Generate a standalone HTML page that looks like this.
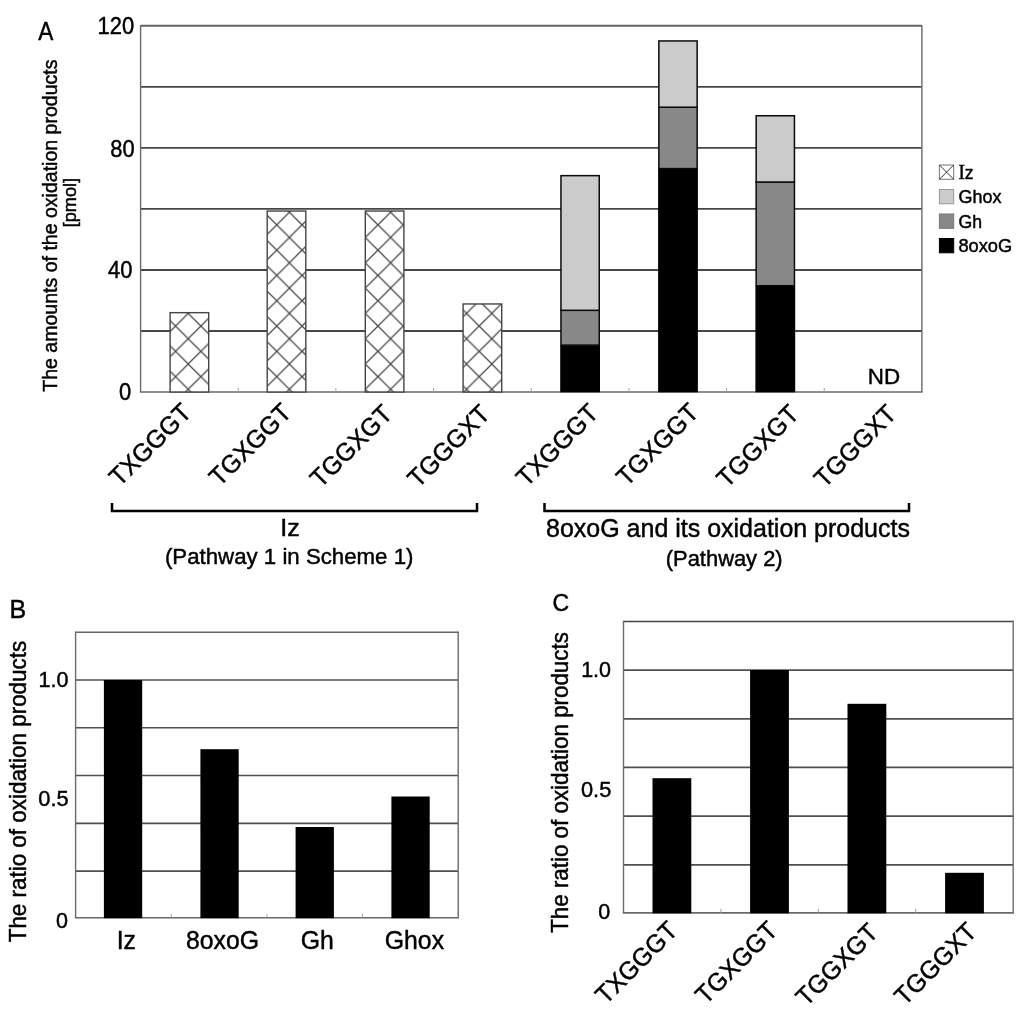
<!DOCTYPE html>
<html><head><meta charset="utf-8"><title>Figure</title>
<style>
html,body{margin:0;padding:0;background:#fff;}
body{width:1024px;height:1016px;overflow:hidden;}
svg{display:block;font-family:"Liberation Sans",sans-serif;fill:#000;filter:grayscale(1) blur(0.45px);}
</style></head><body>
<svg width="1024" height="1016" viewBox="0 0 1024 1016">
<rect x="0" y="0" width="1024" height="1016" fill="#fff"/>
<defs><pattern id="hx" patternUnits="userSpaceOnUse" x="11.1" y="9.8" width="25.3" height="25.3"><path d="M-1,-1 L26.3,26.3 M-1,26.3 L26.3,-1" stroke="#484848" stroke-width="1.25" fill="none"/></pattern></defs>
<line x1="140.6" y1="330.97" x2="921.9" y2="330.97" stroke="#484848" stroke-width="1.9" />
<line x1="140.6" y1="269.93" x2="921.9" y2="269.93" stroke="#484848" stroke-width="1.9" />
<line x1="140.6" y1="208.90" x2="921.9" y2="208.90" stroke="#484848" stroke-width="1.9" />
<line x1="140.6" y1="147.87" x2="921.9" y2="147.87" stroke="#484848" stroke-width="1.9" />
<line x1="140.6" y1="86.83" x2="921.9" y2="86.83" stroke="#484848" stroke-width="1.9" />
<line x1="140.6" y1="25.8" x2="921.9" y2="25.8" stroke="#666" stroke-width="1.9" />
<line x1="140.6" y1="24.900000000000002" x2="140.6" y2="392.0" stroke="#6a6a6a" stroke-width="1.4" />
<line x1="921.9" y1="24.900000000000002" x2="921.9" y2="392.0" stroke="#6a6a6a" stroke-width="1.4" />
<line x1="139.9" y1="392.0" x2="922.6" y2="392.0" stroke="#6a6a6a" stroke-width="1.6" />
<line x1="238.26" y1="392.0" x2="238.26" y2="388.0" stroke="#999" stroke-width="0.9" />
<line x1="335.92" y1="392.0" x2="335.92" y2="388.0" stroke="#999" stroke-width="0.9" />
<line x1="433.59" y1="392.0" x2="433.59" y2="388.0" stroke="#999" stroke-width="0.9" />
<line x1="531.25" y1="392.0" x2="531.25" y2="388.0" stroke="#999" stroke-width="0.9" />
<line x1="628.91" y1="392.0" x2="628.91" y2="388.0" stroke="#999" stroke-width="0.9" />
<line x1="726.57" y1="392.0" x2="726.57" y2="388.0" stroke="#999" stroke-width="0.9" />
<line x1="824.24" y1="392.0" x2="824.24" y2="388.0" stroke="#999" stroke-width="0.9" />
<rect x="170.10" y="312.66" width="38.60" height="79.34" fill="#fff"/>
<rect x="170.10" y="312.66" width="38.60" height="79.34" fill="url(#hx)" stroke="#454545" stroke-width="1.4"/>
<rect x="267.20" y="211.04" width="38.60" height="180.96" fill="#fff"/>
<rect x="267.20" y="211.04" width="38.60" height="180.96" fill="url(#hx)" stroke="#454545" stroke-width="1.4"/>
<rect x="365.30" y="211.04" width="38.60" height="180.96" fill="#fff"/>
<rect x="365.30" y="211.04" width="38.60" height="180.96" fill="url(#hx)" stroke="#454545" stroke-width="1.4"/>
<rect x="463.10" y="303.96" width="38.60" height="88.04" fill="#fff"/>
<rect x="463.10" y="303.96" width="38.60" height="88.04" fill="url(#hx)" stroke="#454545" stroke-width="1.4"/>
<rect x="560.20" y="345.10" width="39.80" height="47.20" fill="#000"/>
<rect x="560.95" y="310.30" width="38.30" height="34.80" fill="#888" stroke="#0a0a0a" stroke-width="1.5"/>
<rect x="560.95" y="175.65" width="38.30" height="134.65" fill="#cbcbcb" stroke="#0a0a0a" stroke-width="1.5"/>
<rect x="658.10" y="168.60" width="39.80" height="223.70" fill="#000"/>
<rect x="658.85" y="107.20" width="38.30" height="61.40" fill="#888" stroke="#0a0a0a" stroke-width="1.5"/>
<rect x="658.85" y="40.95" width="38.30" height="66.25" fill="#cbcbcb" stroke="#0a0a0a" stroke-width="1.5"/>
<rect x="755.40" y="285.70" width="39.80" height="106.60" fill="#000"/>
<rect x="756.15" y="182.00" width="38.30" height="103.70" fill="#888" stroke="#0a0a0a" stroke-width="1.5"/>
<rect x="756.15" y="115.75" width="38.30" height="66.25" fill="#cbcbcb" stroke="#0a0a0a" stroke-width="1.5"/>
<text transform="translate(131.2 399.9) scale(0.9259 1)" font-size="23.65" text-anchor="end" stroke="#000" stroke-width="0.45" >0</text>
<text transform="translate(132.4 277.7) scale(0.9259 1)" font-size="23.65" text-anchor="end" stroke="#000" stroke-width="0.45" >40</text>
<text transform="translate(134.6 157.2) scale(0.9259 1)" font-size="23.65" text-anchor="end" stroke="#000" stroke-width="0.45" >80</text>
<text transform="translate(134.1 33.6) scale(0.9259 1)" font-size="23.65" text-anchor="end" stroke="#000" stroke-width="0.45" >120</text>
<text transform="translate(867.8 384.4) scale(1.0000 1)" font-size="22.40" text-anchor="start" stroke="#000" stroke-width="0.45" >ND</text>
<text transform="translate(38.3 40.2) scale(0.8828 1)" font-size="25.60" text-anchor="start" stroke="#000" stroke-width="0.45" >A</text>
<text transform="translate(57.1 391.8) rotate(-90) scale(0.9804 1)" font-size="19.94" text-anchor="start" stroke="#000" stroke-width="0.45" >The amounts of the oxidation products</text>
<text transform="translate(76.0 227.3) rotate(-90) scale(1.0000 1)" font-size="18.15" text-anchor="start" stroke="#000" stroke-width="0.45" >[pmol]</text>
<text transform="translate(192.9 414.0) rotate(-45) scale(0.9709 1)" font-size="25.31" text-anchor="end" stroke="#000" stroke-width="0.45" >TXGGGT</text>
<text transform="translate(292.9 414.0) rotate(-45) scale(0.9709 1)" font-size="25.31" text-anchor="end" stroke="#000" stroke-width="0.45" >TGXGGT</text>
<text transform="translate(393.9 415.5) rotate(-45) scale(0.9709 1)" font-size="25.31" text-anchor="end" stroke="#000" stroke-width="0.45" >TGGXGT</text>
<text transform="translate(491.4 415.5) rotate(-45) scale(0.9709 1)" font-size="25.31" text-anchor="end" stroke="#000" stroke-width="0.45" >TGGGXT</text>
<text transform="translate(599.9 414.5) rotate(-45) scale(0.9709 1)" font-size="25.31" text-anchor="end" stroke="#000" stroke-width="0.45" >TXGGGT</text>
<text transform="translate(700.1 414.0) rotate(-45) scale(0.9709 1)" font-size="25.31" text-anchor="end" stroke="#000" stroke-width="0.45" >TGXGGT</text>
<text transform="translate(800.4 415.5) rotate(-45) scale(0.9709 1)" font-size="25.31" text-anchor="end" stroke="#000" stroke-width="0.45" >TGGXGT</text>
<text transform="translate(897.9 415.5) rotate(-45) scale(0.9709 1)" font-size="25.31" text-anchor="end" stroke="#000" stroke-width="0.45" >TGGGXT</text>
<path d="M112,503 V511 H477 V503" fill="none" stroke="#000" stroke-width="2.5"/>
<path d="M544.5,503 V511 H909 V503" fill="none" stroke="#000" stroke-width="2.5"/>
<text transform="translate(290.0 536.0) scale(1.0870 1)" font-size="23.00" text-anchor="middle" stroke="#000" stroke-width="0.45" >Iz</text>
<text transform="translate(289.2 564.0) scale(0.9709 1)" font-size="22.92" text-anchor="middle" stroke="#000" stroke-width="0.45" >(Pathway 1 in Scheme 1)</text>
<text transform="translate(728 537.0) scale(0.9901 1)" font-size="25.25" text-anchor="middle" stroke="#000" stroke-width="0.45" >8oxoG and its oxidation products</text>
<text transform="translate(724.2 566.2) scale(1.0000 1)" font-size="21.90" text-anchor="middle" stroke="#000" stroke-width="0.45" >(Pathway 2)</text>
<rect x="939.40" y="165.00" width="14.30" height="14.30" fill="#fff" stroke="#777" stroke-width="1"/>
<path d="M939.4,165.0 l14.3,14.3 M939.4,179.3 l14.3,-14.3" stroke="#333" stroke-width="1" fill="none"/>
<rect x="939.40" y="189.50" width="14.30" height="14.30" fill="#cbcbcb" stroke="#999" stroke-width="1"/>
<rect x="939.40" y="214.00" width="14.30" height="14.30" fill="#888" stroke="#777" stroke-width="1"/>
<rect x="939.40" y="238.50" width="14.30" height="14.30" fill="#000" stroke="#000" stroke-width="1"/>
<text transform="translate(958.4 178.6) scale(0.9362 1)" font-size="18.80" text-anchor="start" stroke="#000" stroke-width="0.45" ><tspan font-family="Liberation Serif" font-size="20.5">I</tspan>z</text>
<text transform="translate(958.4 203.1) scale(0.9574 1)" font-size="18.80" text-anchor="start" stroke="#000" stroke-width="0.45" >Ghox</text>
<text transform="translate(958.4 227.6) scale(0.9415 1)" font-size="18.80" text-anchor="start" stroke="#000" stroke-width="0.45" >Gh</text>
<text transform="translate(958.4 252.1) scale(0.9707 1)" font-size="18.80" text-anchor="start" stroke="#000" stroke-width="0.45" >8oxoG</text>
<line x1="75.6" y1="871.04" x2="458.2" y2="871.04" stroke="#505050" stroke-width="1.7" />
<line x1="75.6" y1="823.28" x2="458.2" y2="823.28" stroke="#505050" stroke-width="1.7" />
<line x1="75.6" y1="775.52" x2="458.2" y2="775.52" stroke="#505050" stroke-width="1.7" />
<line x1="75.6" y1="727.76" x2="458.2" y2="727.76" stroke="#505050" stroke-width="1.7" />
<line x1="75.6" y1="680.00" x2="458.2" y2="680.00" stroke="#505050" stroke-width="1.7" />
<line x1="75.6" y1="632.2" x2="458.2" y2="632.2" stroke="#666" stroke-width="1.6" />
<line x1="75.6" y1="631.4000000000001" x2="75.6" y2="917.8" stroke="#6a6a6a" stroke-width="1.4" />
<line x1="458.2" y1="631.4000000000001" x2="458.2" y2="917.8" stroke="#6a6a6a" stroke-width="1.4" />
<line x1="74.89999999999999" y1="917.8" x2="458.9" y2="917.8" stroke="#6a6a6a" stroke-width="1.6" />
<line x1="171.25" y1="917.8" x2="171.25" y2="913.8" stroke="#999" stroke-width="0.9" />
<line x1="266.90" y1="917.8" x2="266.90" y2="913.8" stroke="#999" stroke-width="0.9" />
<line x1="362.55" y1="917.8" x2="362.55" y2="913.8" stroke="#999" stroke-width="0.9" />
<rect x="103.90" y="680.00" width="38.30" height="238.20" fill="#000"/>
<rect x="200.40" y="749.20" width="38.30" height="169.00" fill="#000"/>
<rect x="295.60" y="827.00" width="38.30" height="91.20" fill="#000"/>
<rect x="391.40" y="796.50" width="38.30" height="121.70" fill="#000"/>
<text transform="translate(68.4 686.6) scale(1.0000 1)" font-size="21.50" text-anchor="end" stroke="#000" stroke-width="0.45" >1.0</text>
<text transform="translate(68.6 806.2) scale(1.0000 1)" font-size="21.80" text-anchor="end" stroke="#000" stroke-width="0.45" >0.5</text>
<text transform="translate(68.0 927.8) scale(1.0000 1)" font-size="21.50" text-anchor="end" stroke="#000" stroke-width="0.45" >0</text>
<text transform="translate(9.6 617.6) scale(1.0000 1)" font-size="25.00" text-anchor="start" stroke="#000" stroke-width="0.45" >B</text>
<text transform="translate(25.7 942.3) rotate(-90) scale(0.9709 1)" font-size="23.09" text-anchor="start" stroke="#000" stroke-width="0.45" >The ratio of oxidation products</text>
<text transform="translate(126.3 949.3) scale(0.9346 1)" font-size="26.54" text-anchor="middle" stroke="#000" stroke-width="0.45" >Iz</text>
<text transform="translate(222.5 949.3) scale(0.9346 1)" font-size="26.54" text-anchor="middle" stroke="#000" stroke-width="0.45" >8oxoG</text>
<text transform="translate(317.2 949.3) scale(0.9346 1)" font-size="26.54" text-anchor="middle" stroke="#000" stroke-width="0.45" >Gh</text>
<text transform="translate(414.4 949.3) scale(0.9346 1)" font-size="26.54" text-anchor="middle" stroke="#000" stroke-width="0.45" >Ghox</text>
<line x1="623.5" y1="864.82" x2="1013.2" y2="864.82" stroke="#505050" stroke-width="1.7" />
<line x1="623.5" y1="816.14" x2="1013.2" y2="816.14" stroke="#505050" stroke-width="1.7" />
<line x1="623.5" y1="767.46" x2="1013.2" y2="767.46" stroke="#505050" stroke-width="1.7" />
<line x1="623.5" y1="718.78" x2="1013.2" y2="718.78" stroke="#505050" stroke-width="1.7" />
<line x1="623.5" y1="670.10" x2="1013.2" y2="670.10" stroke="#505050" stroke-width="1.7" />
<line x1="623.5" y1="621.5" x2="1013.2" y2="621.5" stroke="#444" stroke-width="1.6" />
<line x1="623.5" y1="620.7" x2="623.5" y2="912.9" stroke="#6a6a6a" stroke-width="1.4" />
<line x1="1013.2" y1="620.7" x2="1013.2" y2="912.9" stroke="#6a6a6a" stroke-width="1.4" />
<line x1="622.8" y1="912.9" x2="1013.9000000000001" y2="912.9" stroke="#6a6a6a" stroke-width="1.6" />
<line x1="720.92" y1="912.9" x2="720.92" y2="908.9" stroke="#999" stroke-width="0.9" />
<line x1="818.35" y1="912.9" x2="818.35" y2="908.9" stroke="#999" stroke-width="0.9" />
<line x1="915.78" y1="912.9" x2="915.78" y2="908.9" stroke="#999" stroke-width="0.9" />
<rect x="652.50" y="778.20" width="38.80" height="135.10" fill="#000"/>
<rect x="750.10" y="670.00" width="38.80" height="243.30" fill="#000"/>
<rect x="847.50" y="703.80" width="38.80" height="209.50" fill="#000"/>
<rect x="945.10" y="872.80" width="38.80" height="40.50" fill="#000"/>
<text transform="translate(611.0 677.4) scale(0.9804 1)" font-size="21.93" text-anchor="end" stroke="#000" stroke-width="0.45" >1.0</text>
<text transform="translate(611.3 797.0) scale(0.9804 1)" font-size="22.24" text-anchor="end" stroke="#000" stroke-width="0.45" >0.5</text>
<text transform="translate(610.2 918.8) scale(1.0000 1)" font-size="21.50" text-anchor="end" stroke="#000" stroke-width="0.45" >0</text>
<text transform="translate(552.6 610.6) scale(0.9274 1)" font-size="24.80" text-anchor="start" stroke="#000" stroke-width="0.45" >C</text>
<text transform="translate(568.2 932.8) rotate(-90) scale(0.9709 1)" font-size="23.03" text-anchor="start" stroke="#000" stroke-width="0.45" >The ratio of oxidation products</text>
<text transform="translate(679.2 932.0) rotate(-45) scale(0.9709 1)" font-size="25.31" text-anchor="end" stroke="#000" stroke-width="0.45" >TXGGGT</text>
<text transform="translate(779.2 932.0) rotate(-45) scale(0.9709 1)" font-size="25.31" text-anchor="end" stroke="#000" stroke-width="0.45" >TGXGGT</text>
<text transform="translate(879.7 934.0) rotate(-45) scale(0.9709 1)" font-size="25.31" text-anchor="end" stroke="#000" stroke-width="0.45" >TGGXGT</text>
<text transform="translate(978.2 933.2) rotate(-45) scale(0.9709 1)" font-size="25.31" text-anchor="end" stroke="#000" stroke-width="0.45" >TGGGXT</text>
</svg>
</body></html>
